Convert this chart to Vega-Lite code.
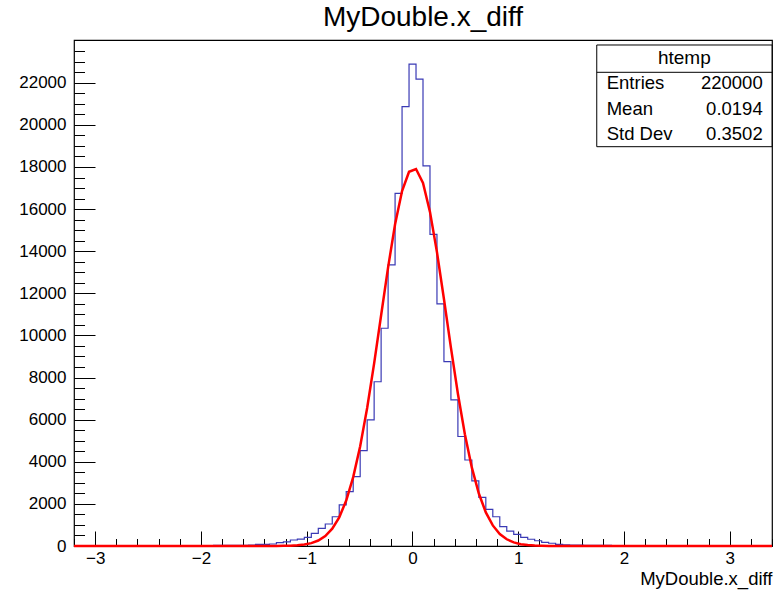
{
  "$schema": "https://vega.github.io/schema/vega-lite/v6.json",
  "width": 698,
  "height": 506,
  "autosize": "none",
  "padding": {"left": 74, "top": 40, "right": 3, "bottom": 45},
  "background": "white",
  "config": {
    "view": {"stroke": "black", "strokeWidth": 1.2},
    "font": "Liberation Sans",
    "axis": {"grid": false, "domain": false, "labelFont": "Liberation Sans", "labelFontSize": 17, "labelColor": "black", "tickColor": "black", "titleColor": "black", "titleFont": "Liberation Sans", "tickWidth": 1}
  },
  "title": {"text": "MyDouble.x_diff", "fontSize": 28, "fontWeight": "normal", "font": "Liberation Sans", "anchor": "middle", "offset": 8, "color": "black"},
  "datasets": {
    "hist": [
      {"x0": -3.2, "count": 0}, {"x0": -3.134, "count": 0}, {"x0": -3.068, "count": 0}, {"x0": -3.002, "count": 0}, {"x0": -2.936, "count": 0},
      {"x0": -2.87, "count": 0}, {"x0": -2.804, "count": 0}, {"x0": -2.738, "count": 0}, {"x0": -2.672, "count": 0}, {"x0": -2.606, "count": 0},
      {"x0": -2.54, "count": 0}, {"x0": -2.474, "count": 0}, {"x0": -2.408, "count": 0}, {"x0": -2.342, "count": 0}, {"x0": -2.276, "count": 0},
      {"x0": -2.21, "count": 0}, {"x0": -2.144, "count": 0}, {"x0": -2.078, "count": 0}, {"x0": -2.012, "count": 0}, {"x0": -1.946, "count": 0},
      {"x0": -1.88, "count": 30}, {"x0": -1.814, "count": 25}, {"x0": -1.748, "count": 30}, {"x0": -1.682, "count": 30}, {"x0": -1.616, "count": 35},
      {"x0": -1.55, "count": 40}, {"x0": -1.484, "count": 75}, {"x0": -1.418, "count": 80}, {"x0": -1.352, "count": 95}, {"x0": -1.286, "count": 160},
      {"x0": -1.22, "count": 200}, {"x0": -1.154, "count": 285}, {"x0": -1.088, "count": 330}, {"x0": -1.022, "count": 410}, {"x0": -0.956, "count": 600},
      {"x0": -0.89, "count": 840}, {"x0": -0.824, "count": 1045}, {"x0": -0.758, "count": 1390}, {"x0": -0.692, "count": 1950}, {"x0": -0.626, "count": 2580},
      {"x0": -0.56, "count": 3290}, {"x0": -0.494, "count": 4530}, {"x0": -0.428, "count": 5990}, {"x0": -0.362, "count": 7800}, {"x0": -0.296, "count": 10340},
      {"x0": -0.23, "count": 13350}, {"x0": -0.164, "count": 16750}, {"x0": -0.098, "count": 20870}, {"x0": -0.032, "count": 22880}, {"x0": 0.034, "count": 22170},
      {"x0": 0.1, "count": 18050}, {"x0": 0.166, "count": 14800}, {"x0": 0.232, "count": 11500}, {"x0": 0.298, "count": 8760}, {"x0": 0.364, "count": 6940},
      {"x0": 0.43, "count": 5200}, {"x0": 0.496, "count": 4085}, {"x0": 0.562, "count": 3090}, {"x0": 0.628, "count": 2310}, {"x0": 0.694, "count": 1740},
      {"x0": 0.76, "count": 1390}, {"x0": 0.826, "count": 920}, {"x0": 0.892, "count": 710}, {"x0": 0.958, "count": 555}, {"x0": 1.024, "count": 410},
      {"x0": 1.09, "count": 320}, {"x0": 1.156, "count": 250}, {"x0": 1.222, "count": 175}, {"x0": 1.288, "count": 130}, {"x0": 1.354, "count": 80},
      {"x0": 1.42, "count": 60}, {"x0": 1.486, "count": 45}, {"x0": 1.552, "count": 40}, {"x0": 1.618, "count": 35}, {"x0": 1.684, "count": 30},
      {"x0": 1.75, "count": 28}, {"x0": 1.816, "count": 25}, {"x0": 1.882, "count": 20}, {"x0": 1.948, "count": 18}, {"x0": 2.014, "count": 15},
      {"x0": 2.08, "count": 12}, {"x0": 2.146, "count": 10}, {"x0": 2.212, "count": 8}, {"x0": 2.278, "count": 5}, {"x0": 2.344, "count": 0},
      {"x0": 2.41, "count": 0}, {"x0": 2.476, "count": 0}, {"x0": 2.542, "count": 0}, {"x0": 2.608, "count": 0}, {"x0": 2.674, "count": 0},
      {"x0": 2.74, "count": 0}, {"x0": 2.806, "count": 0}, {"x0": 2.872, "count": 0}, {"x0": 2.938, "count": 0}, {"x0": 3.004, "count": 0},
      {"x0": 3.07, "count": 0}, {"x0": 3.136, "count": 0}, {"x0": 3.202, "count": 0}, {"x0": 3.268, "count": 0}, {"x0": 3.334, "count": 0},
      {"x0": 3.4, "count": 0}
    ],
    "fit": [
      {"x": -3.2, "f": 0}, {"x": -1.352, "f": 1.1}, {"x": -1.286, "f": 2.8}, {"x": -1.22, "f": 6.7}, {"x": -1.154, "f": 15.2},
      {"x": -1.088, "f": 33.1}, {"x": -1.022, "f": 68.9}, {"x": -0.956, "f": 137}, {"x": -0.89, "f": 260}, {"x": -0.824, "f": 473},
      {"x": -0.758, "f": 821}, {"x": -0.692, "f": 1361}, {"x": -0.626, "f": 2159}, {"x": -0.56, "f": 3272}, {"x": -0.494, "f": 4739},
      {"x": -0.428, "f": 6557}, {"x": -0.362, "f": 8672}, {"x": -0.296, "f": 10958}, {"x": -0.23, "f": 13235}, {"x": -0.164, "f": 15277},
      {"x": -0.098, "f": 16855}, {"x": -0.032, "f": 17770}, {"x": 0.034, "f": 17905}, {"x": 0.1, "f": 17241}, {"x": 0.166, "f": 15866},
      {"x": 0.232, "f": 13955}, {"x": 0.298, "f": 11729}, {"x": 0.364, "f": 9420}, {"x": 0.43, "f": 7232}, {"x": 0.496, "f": 5306},
      {"x": 0.562, "f": 3721}, {"x": 0.628, "f": 2493}, {"x": 0.694, "f": 1596}, {"x": 0.76, "f": 977}, {"x": 0.826, "f": 571},
      {"x": 0.892, "f": 319}, {"x": 0.958, "f": 171}, {"x": 1.024, "f": 87}, {"x": 1.09, "f": 42.5}, {"x": 1.156, "f": 19.8},
      {"x": 1.222, "f": 8.8}, {"x": 1.288, "f": 3.8}, {"x": 1.354, "f": 1.5}, {"x": 3.4, "f": 0}
    ],
    "stats": [
      {"label": "Entries", "value": "220000"},
      {"label": "Mean", "value": "0.0194"},
      {"label": "Std Dev", "value": "0.3502"}
    ]
  },
  "layer": [
    {
      "data": {"name": "hist"},
      "mark": {"type": "line", "interpolate": "step-after", "color": "#3a3ab5", "strokeWidth": 1.2},
      "encoding": {
        "x": {"field": "x0", "type": "quantitative", "scale": {"domain": [-3.2, 3.4], "nice": false, "zero": false},
              "axis": {"orient": "bottom", "values": [-3, -2, -1, 0, 1, 2, 3], "format": "d", "tickSize": -15, "labelPadding": 19,
                       "labelFlush": false, "labelOverlap": false, "title": "MyDouble.x_diff", "titleAnchor": "end", "titleFontSize": 18.5,
                       "titleFontWeight": "normal", "titlePadding": 3}},
        "y": {"field": "count", "type": "quantitative", "scale": {"domain": [0, 24030], "nice": false},
              "axis": {"orient": "left", "values": [0, 2000, 4000, 6000, 8000, 10000, 12000, 14000, 16000, 18000, 20000, 22000], "format": "d",
                       "tickSize": -21, "labelPadding": 29, "labelOverlap": false, "labelFlush": false, "title": null}}
      }
    },
    {
      "data": {"name": "fit"},
      "mark": {"type": "line", "color": "#ff0000", "strokeWidth": 2.5},
      "encoding": {
        "x": {"field": "x", "type": "quantitative",
              "axis": {"orient": "bottom", "values": [-3.2, -3, -2.8, -2.6, -2.4, -2.2, -2, -1.8, -1.6, -1.4, -1.2, -1, -0.8, -0.6, -0.4, -0.2, 0, 0.2, 0.4, 0.6, 0.8, 1, 1.2, 1.4, 1.6, 1.8, 2, 2.2, 2.4, 2.6, 2.8, 3, 3.2, 3.4],
                       "tickSize": -7.5, "labels": false, "title": null}},
        "y": {"field": "f", "type": "quantitative",
              "axis": {"orient": "left", "values": [500, 1000, 1500, 2500, 3000, 3500, 4500, 5000, 5500, 6500, 7000, 7500, 8500, 9000, 9500, 10500, 11000, 11500, 12500, 13000, 13500, 14500, 15000, 15500, 16500, 17000, 17500, 18500, 19000, 19500, 20500, 21000, 21500, 22500, 23000, 23500],
                       "tickSize": -10.5, "labels": false, "title": null}}
      }
    },
    {
      "data": {"name": "stats"},
      "transform": [{"filter": "datum.label == 'Entries'"}],
      "layer": [
        {
          "mark": {"type": "rect", "fill": "white", "stroke": "black", "strokeWidth": 1},
          "encoding": {
            "x": {"datum": 1.743, "type": "quantitative", "axis": null},
            "x2": {"datum": 3.4},
            "y": {"datum": 23793, "type": "quantitative", "axis": null},
            "y2": {"datum": 18963}
          }
        },
        {
          "mark": {"type": "rule", "color": "black", "strokeWidth": 1},
          "encoding": {
            "x": {"datum": 1.743, "type": "quantitative", "axis": null},
            "x2": {"datum": 3.4},
            "y": {"datum": 22496, "type": "quantitative", "axis": null}
          }
        },
        {
          "mark": {"type": "text", "text": "htemp", "align": "center", "baseline": "middle", "fontSize": 19, "font": "Liberation Sans", "color": "black"},
          "encoding": {
            "x": {"datum": 2.571, "type": "quantitative", "axis": null},
            "y": {"datum": 23175, "type": "quantitative", "axis": null}
          }
        },
        {"mark": {"type": "text", "align": "left", "baseline": "middle", "fontSize": 18.5, "font": "Liberation Sans", "color": "black"},
         "encoding": {"x": {"datum": 1.837, "type": "quantitative", "axis": null}, "y": {"datum": 21974, "type": "quantitative", "axis": null}, "text": {"field": "label"}}},
        {"mark": {"type": "text", "align": "right", "baseline": "middle", "fontSize": 18.5, "font": "Liberation Sans", "color": "black"},
         "encoding": {"x": {"datum": 3.312, "type": "quantitative", "axis": null}, "y": {"datum": 21974, "type": "quantitative", "axis": null}, "text": {"field": "value"}}}
      ]
    },
    {
      "data": {"name": "stats"},
      "transform": [{"filter": "datum.label == 'Mean'"}],
      "layer": [
        {"mark": {"type": "text", "align": "left", "baseline": "middle", "fontSize": 18.5, "font": "Liberation Sans", "color": "black"},
         "encoding": {"x": {"datum": 1.837, "type": "quantitative", "axis": null}, "y": {"datum": 20739, "type": "quantitative", "axis": null}, "text": {"field": "label"}}},
        {"mark": {"type": "text", "align": "right", "baseline": "middle", "fontSize": 18.5, "font": "Liberation Sans", "color": "black"},
         "encoding": {"x": {"datum": 3.312, "type": "quantitative", "axis": null}, "y": {"datum": 20739, "type": "quantitative", "axis": null}, "text": {"field": "value"}}}
      ]
    },
    {
      "data": {"name": "stats"},
      "transform": [{"filter": "datum.label == 'Std Dev'"}],
      "layer": [
        {"mark": {"type": "text", "align": "left", "baseline": "middle", "fontSize": 18.5, "font": "Liberation Sans", "color": "black"},
         "encoding": {"x": {"datum": 1.837, "type": "quantitative", "axis": null}, "y": {"datum": 19552, "type": "quantitative", "axis": null}, "text": {"field": "label"}}},
        {"mark": {"type": "text", "align": "right", "baseline": "middle", "fontSize": 18.5, "font": "Liberation Sans", "color": "black"},
         "encoding": {"x": {"datum": 3.312, "type": "quantitative", "axis": null}, "y": {"datum": 19552, "type": "quantitative", "axis": null}, "text": {"field": "value"}}}
      ]
    }
  ],
  "resolve": {"axis": {"x": "independent", "y": "independent"}}
}
